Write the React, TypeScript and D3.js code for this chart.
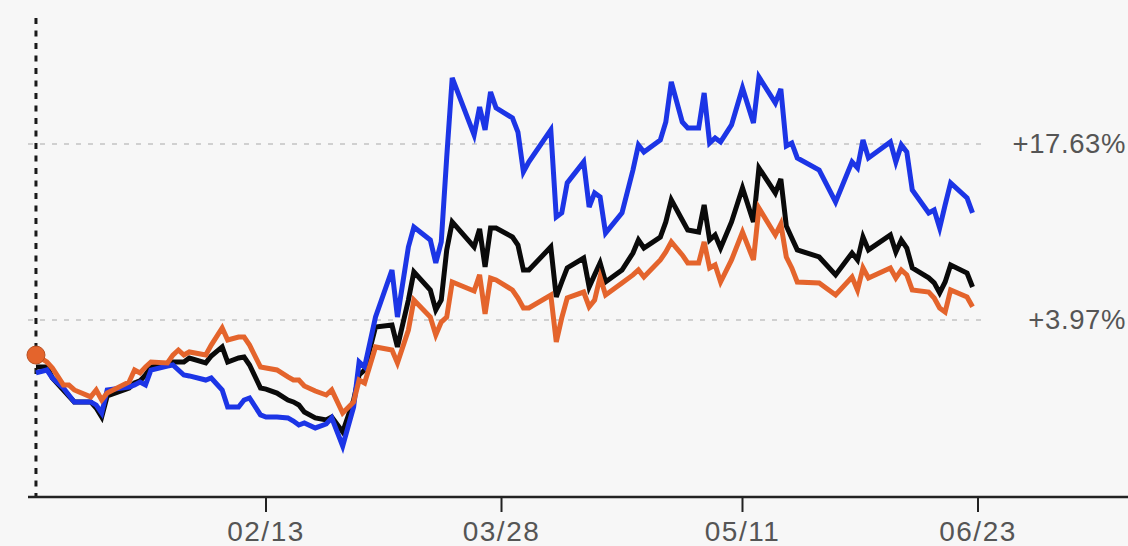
import * as React from "react";
import * as d3 from "d3";

// trading dates (month/day) shared by the three series
const dates = [
  "01/02", "01/04", "01/05", "01/07", "01/08", "01/09", "01/12", "01/13", "01/14", "01/15",
  "01/19", "01/20", "01/21", "01/22", "01/23", "01/26", "01/27", "01/28", "01/29", "01/30",
  "02/02", "02/03", "02/05", "02/06", "02/08", "02/09", "02/10", "02/12", "02/13", "02/15",
  "02/17", "02/18", "02/19", "02/20", "02/22", "02/24", "02/25", "02/27", "03/01", "03/02",
  "03/03", "03/05", "03/08", "03/09", "03/11", "03/12", "03/15", "03/16", "03/17", "03/18",
  "03/19", "03/23", "03/24", "03/25", "03/26", "03/27", "03/30", "03/31", "04/01", "04/02",
  "04/06", "04/07", "04/08", "04/09", "04/12", "04/13", "04/14", "04/15", "04/16", "04/19",
  "04/21", "04/22", "04/23", "04/26", "04/27", "04/28", "04/30", "05/01", "05/03", "05/04",
  "05/05", "05/06", "05/07", "05/09", "05/11", "05/13", "05/14", "05/17", "05/18", "05/19",
  "05/20", "05/21", "05/25", "05/28", "05/31", "06/01", "06/02", "06/03", "06/07", "06/08",
  "06/09", "06/10", "06/11", "06/14", "06/15", "06/16", "06/17", "06/18", "06/21", "06/22",
];

// % change, blue series
const blueValues = [
  -0.14, 0.09, -0.53, -1.31, -1.85, -2.39, -2.39, -2.63, -3.25, -1.46,
  -1.23, -1.07, -0.84, -1.07, 0.09, 0.4, 0.48, 0.09, -0.3, -0.37,
  -0.69, -0.53, -1.46, -2.78, -2.78, -2.24, -2.08, -3.4, -3.56, -3.56,
  -3.63, -3.87, -4.18, -4.02, -4.41, -4.1, -3.63, -5.81, -2.78, 0.71,
  0.32, 4.2, 7.85, 4.2, 9.64, 11.19, 10.18, 8.4, 10.03, 16.62,
  22.76, 18.33, 20.5, 18.72, 21.67, 20.43, 19.65, 18.56, 15.46, 16.24,
  18.72, 11.97, 12.28, 14.61, 16.24, 12.74, 13.83, 13.52, 10.72, 12.28,
  15.61, 17.56, 17.01, 17.94, 19.34, 22.45, 19.34, 18.87, 18.87, 21.59,
  17.71, 18.1, 17.79, 19.11, 21.98, 19.26, 22.83, 20.82, 21.9, 17.48,
  17.71, 16.55, 15.61, 13.13, 16.24, 15.77, 17.94, 16.55, 17.79, 16.24,
  17.56, 17.01, 14.06, 12.28, 12.51, 11.11, 12.9, 14.61, 13.44, 12.28,
];

// % change, black series
const blackValues = [
  0.32, 0.32, -0.53, -1.46, -1.93, -2.39, -2.39, -2.86, -3.56, -1.93,
  -1.31, -0.92, -0.76, -0.3, 0.32, 0.56, 0.71, 0.71, 0.71, 1.02,
  0.64, 1.18, 1.88, 0.71, 1.02, 1.1, 0.48, -1.31, -1.39, -1.7,
  -2.24, -2.39, -2.63, -3.17, -3.63, -3.79, -3.56, -4.72, -2.24, -0.3,
  0.09, 3.43, 3.58, 1.88, 5.52, 7.7, 6.3, 4.75, 5.52, 9.41,
  11.58, 9.64, 11.04, 8.09, 11.11, 11.11, 10.41, 9.79, 7.85, 7.85,
  9.64, 5.76, 6.92, 8.01, 8.78, 6.53, 7.47, 8.4, 6.92, 7.85,
  9.17, 10.18, 9.56, 10.41, 11.58, 13.29, 11.73, 10.96, 10.8, 12.9,
  10.18, 10.57, 9.56, 11.58, 14.22, 11.58, 15.77, 13.83, 14.92, 11.27,
  10.33, 9.41, 8.86, 7.47, 9.17, 8.63, 10.41, 9.41, 10.57, 9.25,
  10.18, 9.56, 8.01, 7.24, 6.85, 6.07, 6.92, 8.24, 7.62, 6.53,
];

// % change, orange series
const orangeValues = [
  1.25, 0.71, 0.25, -1.07, -1.07, -1.46, -2.0, -1.46, -2.24, -1.7,
  -0.84, 0.09, -0.14, 0.32, 0.71, 0.64, 1.25, 1.64, 1.25, 1.49,
  1.25, 2.02, 3.35, 2.42, 2.65, 2.65, 2.02, 0.32, 0.25, 0.09,
  -0.45, -0.69, -0.69, -1.15, -1.54, -1.85, -1.46, -3.25, -2.39, -0.69,
  -0.92, 1.88, 1.64, 0.64, 3.19, 5.52, 4.2, 2.81, 3.81, 4.2,
  6.92, 6.22, 7.47, 4.44, 7.23, 7.08, 6.3, 5.68, 4.9, 4.9,
  5.91, 2.26, 4.13, 5.68, 6.14, 5.0, 5.52, 7.31, 5.91, 6.84,
  7.47, 7.85, 7.31, 8.63, 9.25, 10.03, 9.02, 8.4, 8.4, 10.03,
  8.01, 8.24, 6.92, 8.63, 10.8, 8.63, 12.66, 10.57, 11.42, 8.86,
  8.01, 6.92, 6.84, 5.91, 7.31, 6.3, 8.01, 7.23, 8.01, 7.23,
  7.85, 7.47, 6.3, 6.14, 5.68, 4.9, 4.59, 6.3, 5.76, 5.0,
];

const gridValues = [17.63, 3.97];
const tickLabels = ["02/13", "03/28", "05/11", "06/23"];

const W = 1128;
const H = 546;
const FONT = "'Liberation Sans', Arial, Helvetica, sans-serif";

const parse = d3.timeParse("%m/%d");

export default function App() {
  const x = d3.scaleTime()
    .domain([parse("02/13"), parse("06/23")])
    .range([266, 978]);
  const y = d3.scaleLinear()
    .domain([3.97, 17.63])
    .range([320, 144]);

  const axisY = 497;
  const topY = 18;

  const series = [
    { name: "black", color: "#0a0a0a", values: blackValues },
    { name: "blue", color: "#1c35e6", values: blueValues },
    { name: "orange", color: "#e4642c", values: orangeValues },
  ];

  const line = d3.line<number>()
    .x((_, i) => x(parse(dates[i])))
    .y(d => y(d));

  const x0 = x(parse(dates[0]));

  return (
    <svg width={W} height={H} style={{ position: "absolute", left: 0, top: 0, background: "#f7f7f7" }}>
      {gridValues.map(v => (
        <g key={v}>
          <line x1={28} x2={985} y1={y(v)} y2={y(v)}
            stroke="#c4c4c4" strokeWidth={1.6} strokeDasharray="5 7" />
          <text x={1126} y={y(v) + 9} textAnchor="end" fontFamily={FONT}
            fontSize={27.5} letterSpacing={0.6} fill="#555">{`+${v.toFixed(2)}%`}</text>
        </g>
      ))}

      <line x1={x0} x2={x0} y1={topY} y2={axisY} stroke="#1a1a1a"
        strokeWidth={3} strokeDasharray="6 6.5" />

      <line x1={28} x2={W} y1={axisY} y2={axisY} stroke="#222" strokeWidth={2.5} />
      {tickLabels.map(t => (
        <g key={t} transform={`translate(${x(parse(t))},0)`}>
          <line y1={axisY} y2={axisY + 15} stroke="#222" strokeWidth={2} />
          <text y={541} textAnchor="middle" fontFamily={FONT} fontSize={28}
            letterSpacing={1.5} fill="#555">{t}</text>
        </g>
      ))}

      {series.map(s => (
        <path key={s.name} d={line(s.values) || ""} fill="none" stroke={s.color}
          strokeWidth={5} strokeLinejoin="miter" />
      ))}

      <circle cx={x0} cy={y(orangeValues[0])} r={9} fill="#e4642c" stroke="#b84e20" strokeWidth={1} />
    </svg>
  );
}
